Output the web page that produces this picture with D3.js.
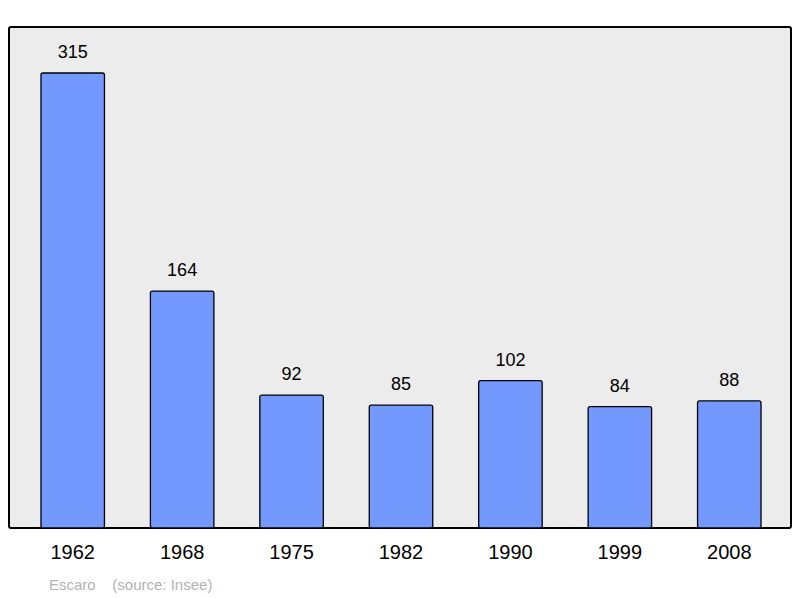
<!DOCTYPE html>
<html>
<head>
<meta charset="utf-8">
<script src="https://cdn.jsdelivr.net/npm/d3@7"></script>
<style>
	body { margin: 0; background: #fff; }
	text { font-family: "Liberation Sans", Arial, sans-serif; }
</style>
</head>
<body>
<script>
// population of Escaro, census years
var years = ["1962", "1968", "1975", "1982", "1990", "1999", "2008"];
var population = [315, 164, 92, 85, 102, 84, 88];

var width = 800, height = 598;
var frameLeft = 9, frameRight = 791, frameTop = 27, frameBottom = 528;

var svg = d3.select("body").append("svg")
	.attr("width", width)
	.attr("height", height);

var x = d3.scaleBand()
	.domain(years)
	.range([18, 784])
	.paddingInner(0.42)
	.paddingOuter(0.21);

var y = d3.scaleLinear()
	.domain([0, 315])
	.range([frameBottom, 73]);

svg.append("rect")
	.attr("x", frameLeft)
	.attr("y", frameTop)
	.attr("width", frameRight - frameLeft)
	.attr("height", frameBottom - frameTop)
	.attr("rx", 2)
	.style("fill", "#ececec")
	.style("stroke", "#000")
	.style("stroke-width", 2);

svg.selectAll("rect.bar")
	.data(population)
	.enter().append("rect")
	.attr("class", "bar")
	.attr("x", function(d, i) { return x(years[i]); })
	.attr("y", function(d) { return y(d); })
	.attr("width", x.bandwidth())
	.attr("height", function(d) { return frameBottom - y(d); })
	.attr("rx", 2)
	.style("fill", "#7399ff")
	.style("stroke", "#000")
	.style("stroke-width", 1.3);

svg.selectAll("text.value")
	.data(population)
	.enter().append("text")
	.attr("class", "value")
	.attr("x", function(d, i) { return x(years[i]) + x.bandwidth() / 2; })
	.attr("y", function(d) { return y(d) - 15; })
	.style("text-anchor", "middle")
	.style("font-size", "18px")
	.text(function(d) { return d; });

// year labels drawn through an axis, without the line
var axis = svg.append("g")
	.attr("transform", "translate(0," + frameBottom + ")")
	.call(d3.axisBottom(x).tickSize(0).tickPadding(17));
axis.select(".domain").remove();
axis.selectAll("text")
	.style("font-size", "20px")
	.style("font-family", "'Liberation Sans', Arial, sans-serif")
	.attr("fill", "#000");

svg.append("text")
	.attr("x", 49)
	.attr("y", 590)
	.style("font-size", "15px")
	.style("fill", "#b3b3b3")
	.text("Escaro\u00a0\u00a0\u00a0\u00a0(source: Insee)");
</script>
</body>
</html>
